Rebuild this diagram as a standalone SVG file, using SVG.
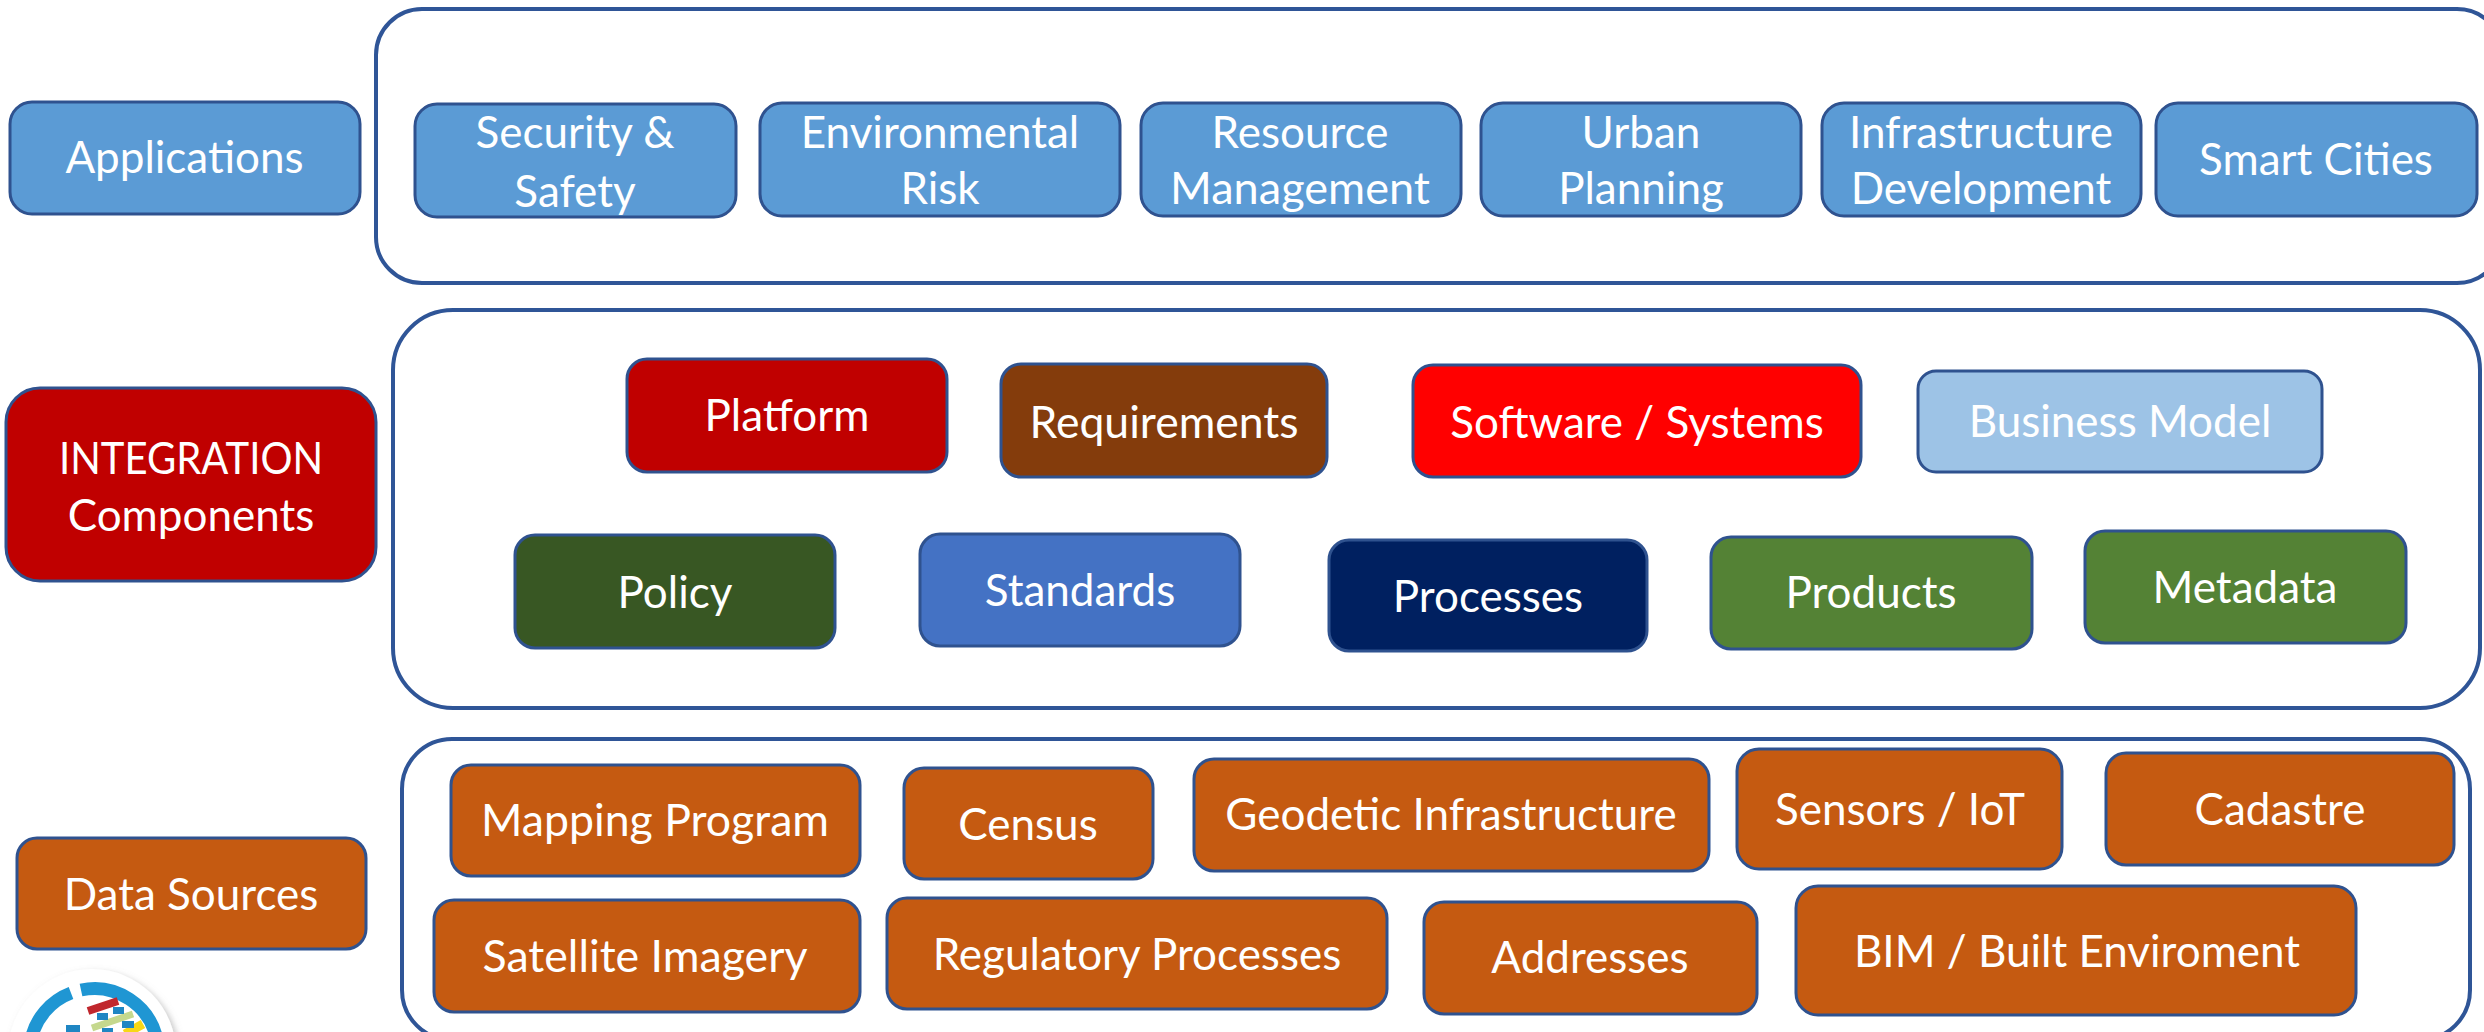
<svg xmlns="http://www.w3.org/2000/svg" width="2484" height="1032" viewBox="0 0 2484 1032">
<style>
text{font-family:"Lato","Open Sans","Liberation Sans",sans-serif;font-size:44px;fill:#fff;text-anchor:middle}
.n rect{stroke:#2f528f;stroke-width:3}
.o{fill:#fff;stroke:#2f5597;stroke-width:4}
.b{fill:#5b9bd5}.d{fill:#c55a11}.g{fill:#548235}
.arc{fill:none;stroke:#1f96d3;stroke-width:13}
.sq{fill:#1f86c3}
</style>
<defs><filter id="shadow" x="-20%" y="-20%" width="140%" height="140%"><feDropShadow dx="3" dy="3" stdDeviation="3" flood-color="#888" flood-opacity="0.5"/></filter></defs>
<g id="panels">
<rect class="o" x="376" y="9" width="2127" height="274" rx="46"/>
<rect class="o" x="393" y="310" width="2087" height="398" rx="60"/>
<rect class="o" x="402" y="739" width="2068" height="301" rx="50"/>
</g>
<g id="logo">
<circle cx="92" cy="1053" r="84" fill="#fff" filter="url(#shadow)"/>
<path class="arc" d="M31 1040A64 64 0 0 1 71 993"/>
<path class="arc" d="M81 990A64 64 0 0 1 157 1040"/>
<path d="M88 1011L118 1001" stroke="#c0272d" stroke-width="8" fill="none"/>
<path d="M92 1028L133 1014" stroke="#c5d88d" stroke-width="7" fill="none"/>
<path d="M125 1034L143 1024" stroke="#f7d716" stroke-width="9" fill="none"/>
<rect class="sq" x="97" y="1013" width="11" height="7"/><rect class="sq" x="113" y="1007" width="11" height="7"/>
<rect class="sq" x="122" y="1021" width="12" height="7"/><rect class="sq" x="102" y="1028" width="11" height="4"/>
<rect class="sq" x="66" y="1025" width="14" height="7"/>
</g>
<g id="connectors"/>
<g id="applications" class="n"><rect class="b" x="10" y="102" width="350" height="112" rx="22"/><text x="184.500" y="173">Applications</text></g>
<g id="security" class="n"><rect class="b" x="415" y="104" width="321" height="113" rx="22"/><text x="575" y="148">Security &amp;</text><text x="575" y="207">Safety</text></g>
<g id="environmental" class="n"><rect class="b" x="760" y="103" width="360" height="113" rx="22"/><text x="940" y="148">Environmental</text><text x="940" y="204">Risk</text></g>
<g id="resource" class="n"><rect class="b" x="1141" y="103" width="320" height="113" rx="22"/><text x="1300" y="148">Resource</text><text x="1300" y="204" textLength="260" lengthAdjust="spacingAndGlyphs">Management</text></g>
<g id="urban" class="n"><rect class="b" x="1481" y="103" width="320" height="113" rx="22"/><text x="1641" y="148">Urban</text><text x="1641" y="204">Planning</text></g>
<g id="infrastructure" class="n"><rect class="b" x="1822" y="103" width="319" height="113" rx="22"/><text x="1981" y="148">Infrastructure</text><text x="1981" y="204">Development</text></g>
<g id="smart" class="n"><rect class="b" x="2156" y="103" width="321" height="113" rx="22"/><text x="2316" y="175">Smart Cities</text></g>
<g id="integration" class="n"><rect fill="#c00000" x="6" y="388" width="370" height="193" rx="34"/><text x="191" y="474" textLength="264" lengthAdjust="spacingAndGlyphs">INTEGRATION</text><text x="191" y="531">Components</text></g>
<g id="platform" class="n"><rect fill="#c00000" x="627" y="359" width="320" height="113" rx="20"/><text x="787" y="431">Platform</text></g>
<g id="requirements" class="n"><rect fill="#843c0c" x="1001" y="364" width="326" height="113" rx="20"/><text x="1164" y="438" textLength="269" lengthAdjust="spacingAndGlyphs">Requirements</text></g>
<g id="software" class="n"><rect fill="#ff0000" x="1413" y="365" width="448" height="112" rx="20"/><text x="1637" y="438">Software / Systems</text></g>
<g id="business" class="n"><rect fill="#9dc3e6" x="1918" y="371" width="404" height="101" rx="18"/><text x="2120" y="437">Business Model</text></g>
<g id="policy" class="n"><rect fill="#385723" x="515" y="535" width="320" height="113" rx="20"/><text x="675" y="608">Policy</text></g>
<g id="standards" class="n"><rect fill="#4472c4" x="920" y="534" width="320" height="112" rx="20"/><text x="1080" y="606">Standards</text></g>
<g id="processes" class="n"><rect fill="#002060" x="1329" y="540" width="318" height="111" rx="20"/><text x="1488" y="612">Processes</text></g>
<g id="products" class="n"><rect class="g" x="1711" y="537" width="321" height="112" rx="20"/><text x="1871" y="608">Products</text></g>
<g id="metadata" class="n"><rect class="g" x="2085" y="531" width="321" height="112" rx="20"/><text x="2245" y="603">Metadata</text></g>
<g id="datasources" class="n"><rect class="d" x="17" y="838" width="349" height="111" rx="20"/><text x="191" y="910">Data Sources</text></g>
<g id="mapping" class="n"><rect class="d" x="451" y="765" width="409" height="111" rx="20"/><text x="655" y="836" textLength="348" lengthAdjust="spacingAndGlyphs">Mapping Program</text></g>
<g id="census" class="n"><rect class="d" x="904" y="768" width="249" height="111" rx="20"/><text x="1028" y="840">Census</text></g>
<g id="geodetic" class="n"><rect class="d" x="1194" y="759" width="515" height="112" rx="20"/><text x="1451" y="830">Geodetic Infrastructure</text></g>
<g id="sensors" class="n"><rect class="d" x="1737" y="749" width="325" height="120" rx="22"/><text x="1900" y="825">Sensors / IoT</text></g>
<g id="cadastre" class="n"><rect class="d" x="2106" y="753" width="348" height="112" rx="20"/><text x="2280" y="825">Cadastre</text></g>
<g id="satellite" class="n"><rect class="d" x="434" y="900" width="426" height="112" rx="20"/><text x="645" y="972" textLength="325" lengthAdjust="spacingAndGlyphs">Satellite Imagery</text></g>
<g id="regulatory" class="n"><rect class="d" x="887" y="898" width="500" height="111" rx="20"/><text x="1137" y="970">Regulatory Processes</text></g>
<g id="addresses" class="n"><rect class="d" x="1424" y="902" width="333" height="112" rx="20"/><text x="1590" y="973">Addresses</text></g>
<g id="bim" class="n"><rect class="d" x="1796" y="886" width="560" height="129" rx="22"/><text x="2077" y="967">BIM / Built Enviroment</text></g>
</svg>
